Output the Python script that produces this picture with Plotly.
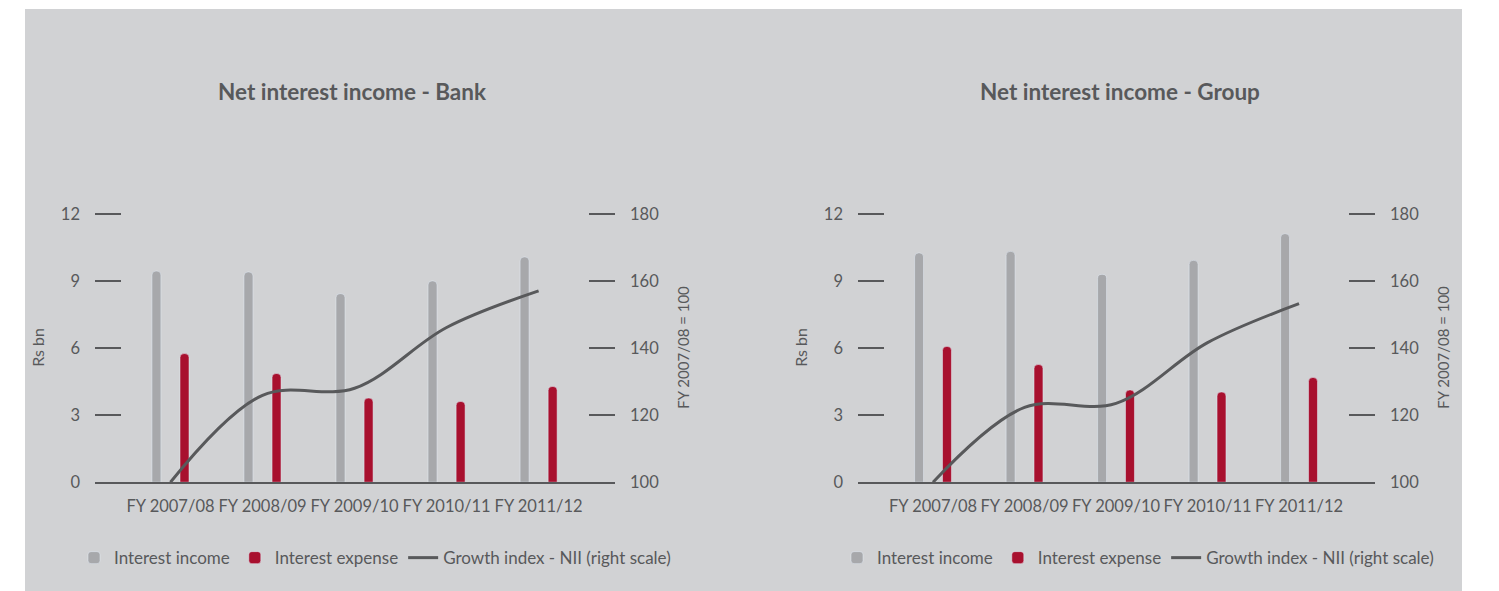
import plotly.graph_objects as go

categories = ["FY 2007/08", "FY 2008/09", "FY 2009/10", "FY 2010/11", "FY 2011/12"]

bank_income = [9.44, 9.40, 8.43, 9.00, 10.07]
bank_expense = [5.75, 4.86, 3.76, 3.61, 4.28]
bank_index = [100, 125.9, 128.0, 146.1, 157.0]

group_income = [10.25, 10.32, 9.29, 9.92, 11.11]
group_expense = [6.07, 5.26, 4.12, 4.03, 4.68]
group_index = [100, 122.3, 123.5, 141.6, 153.2]

left_ticks = [0, 3, 6, 9, 12]
right_ticks = [100, 120, 140, 160, 180]

GRAY = "#a7a8ab"
RED = "#a8102e"
LINE = "#58595b"
TEXT = "#58595b"
BG = "#d1d2d4"
FONT = "Lato"

# observed page placement: figure starts 8px down and is shown at ~0.97 vertical scale
TOP, SY = 8, 0.97
FW, FH = 1499, 601

def px(x):
    return x / FW

def py(y):
    return 1 - ((y - TOP) / SY) / FH

fig = go.Figure()

def add_panel(income, expense, index, xa, ya, ya2, legend):
    fig.add_trace(go.Bar(x=categories, y=income, name="Interest income",
                         marker=dict(color=GRAY, cornerradius=4),
                         xaxis=xa, yaxis=ya, legend=legend))
    fig.add_trace(go.Bar(x=categories, y=expense, name="Interest expense",
                         marker=dict(color=RED, cornerradius=4),
                         xaxis=xa, yaxis=ya, legend=legend))
    fig.add_trace(go.Scatter(x=categories, y=index, name="Growth index - NII (right scale)",
                             mode="lines", line=dict(color=LINE, width=3, shape="spline", smoothing=1),
                             xaxis=xa, yaxis=ya2, legend=legend))

add_panel(bank_income, bank_expense, bank_index, "x", "y", "y2", "legend")
add_panel(group_income, group_expense, group_index, "x3", "y3", "y4", "legend2")

ydom = [py(482), py(212)]
tickfont = dict(family=FONT, size=16.5, color=TEXT)

def xaxis_def(d0, d1, anchor):
    return dict(domain=[px(d0), px(d1)], anchor=anchor, type="category",
                range=[-0.82, 4.83], showline=True, linecolor=LINE, linewidth=2,
                ticks="", showgrid=False, zeroline=False, tickfont=tickfont,
                tickangle=0, ticklabelstandoff=8)

def yleft(anchor):
    return dict(domain=ydom, anchor=anchor, range=[0, 12.05], tickvals=left_ticks,
                ticks="inside", ticklen=26, tickwidth=1.5, tickcolor=LINE,
                showgrid=False, zeroline=False, showline=False, tickfont=tickfont,
                ticklabelstandoff=14,
                title=dict(text="Rs bn", font=dict(family=FONT, size=16, color=TEXT), standoff=12))

def yright(overlay, anchor):
    return dict(overlaying=overlay, anchor=anchor, side="right", range=[100, 180.33],
                tickvals=right_ticks, ticks="inside", ticklen=26, tickwidth=1.5, tickcolor=LINE,
                showgrid=False, zeroline=False, showline=False, tickfont=tickfont,
                ticklabelstandoff=14,
                title=dict(text="FY 2007/08 = 100", font=dict(family=FONT, size=15, color=TEXT), standoff=20))

legend_common = dict(orientation="h", yanchor="middle", y=py(558), xanchor="center",
                     font=dict(family=FONT, size=17, color=TEXT), bgcolor="rgba(0,0,0,0)",
                     itemwidth=30, traceorder="normal")

fig.update_layout(
    width=FW, height=FH,
    margin=dict(l=0, r=0, t=0, b=0),
    paper_bgcolor="white",
    plot_bgcolor="rgba(0,0,0,0)",
    barmode="group", bargap=0.39, bargroupgap=0.68,
    showlegend=True,
    xaxis=xaxis_def(95, 615, "y"),
    yaxis=yleft("x"),
    yaxis2=yright("y", "x"),
    xaxis3=xaxis_def(858, 1375, "y3"),
    yaxis3=yleft("x3"),
    yaxis4=yright("y3", "x3"),
    legend=dict(legend_common, x=px(375)),
    legend2=dict(legend_common, x=px(1138)),
    shapes=[dict(type="rect", xref="paper", yref="paper", x0=px(25), x1=px(1462),
                 y0=0, y1=1, fillcolor=BG, line=dict(width=0), layer="below")],
    annotations=[
        dict(text="<b>Net interest income - Bank</b>", xref="paper", yref="paper",
             x=px(352), y=py(91), showarrow=False, xanchor="center", yanchor="middle",
             font=dict(family=FONT, size=22.5, color=TEXT)),
        dict(text="<b>Net interest income - Group</b>", xref="paper", yref="paper",
             x=px(1120), y=py(91), showarrow=False, xanchor="center", yanchor="middle",
             font=dict(family=FONT, size=22.5, color=TEXT)),
    ],
)

fig.write_html("out.html")
